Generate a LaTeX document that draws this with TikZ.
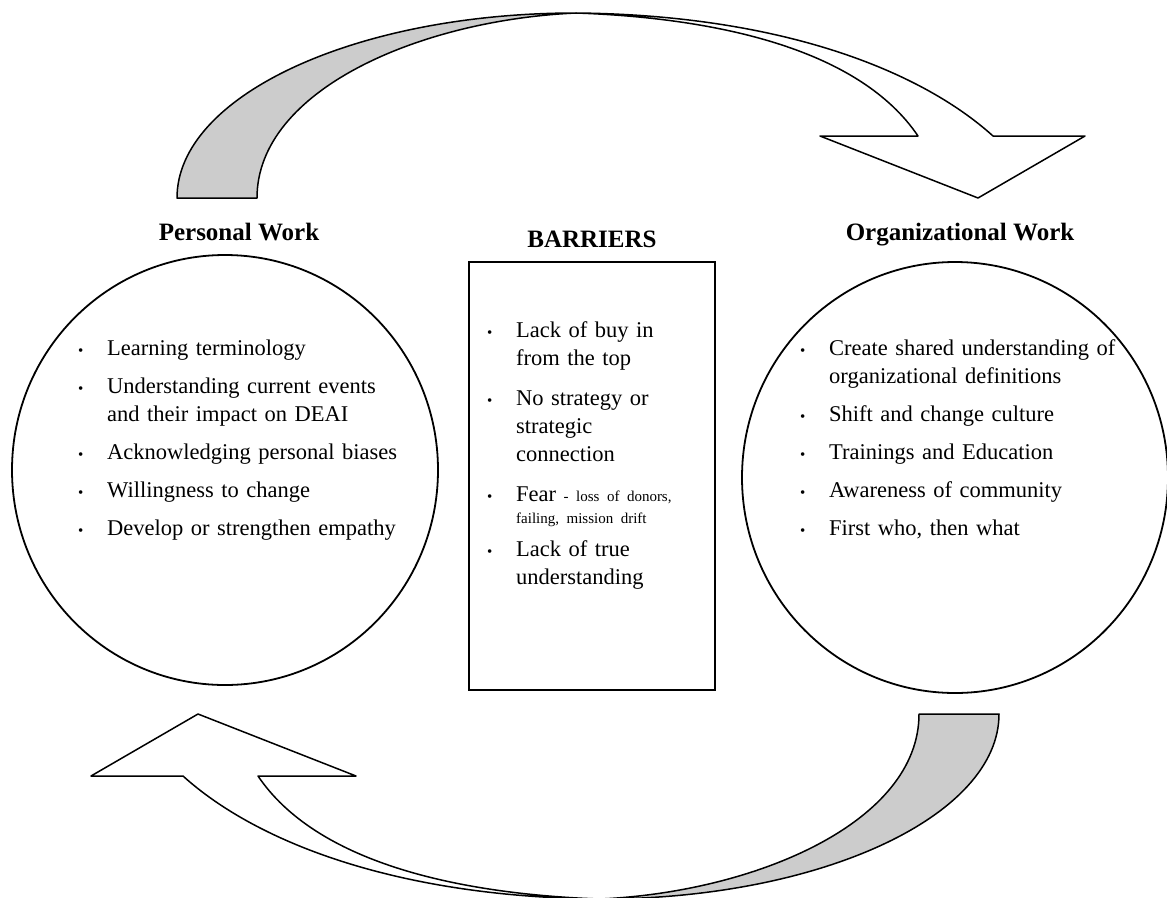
\documentclass[tikz,border=0pt]{standalone}
\usepackage{fontspec}
\setmainfont{Liberation Serif}
\usetikzlibrary{shapes.geometric,positioning}

\tikzset{
  ring/.style={draw, ellipse, line width=1.8pt, minimum width=426pt, minimum height=430pt, inner sep=0pt},
  heading/.style={font=\bfseries\fontsize{25}{30}\selectfont, inner sep=0pt, anchor=base},
  bullets/.style={font=\fontsize{22.5}{28}\selectfont, align=left, text width=#1, inner sep=0pt, anchor=base west},
  band/.style={draw, line width=1.5pt, line join=round},
}
\newcommand\dotitem{\makebox[29pt][l]{\fontsize{15}{15}\selectfont\textbullet}}
\newcommand\dotgap{\hspace*{29pt}}

\begin{document}
\begin{tikzpicture}[x=1pt, y=-1pt]
  \useasboundingbox (0,0) rectangle (1167,897);

  % the two turning arrows (second one is the first turned round)
  \foreach \turn in {0,180}{
    \begin{scope}[rotate around={\turn:(588,456)}]
      \coordinate (peak) at (576,13);
      \draw[band, fill=white] (peak) .. controls (780,15) and (920,70) .. (993,136)
        -- (1085,136) -- (978,198) -- (820,136) -- (918,136)
        .. controls (860,50) and (720,18) .. (peak) -- cycle;
      \draw[band, fill=gray!40] (177,198) arc[start angle=180, end angle=270, x radius=399, y radius=185]
        .. controls (420,20) and (257,90) .. (257,198) -- cycle;
    \end{scope}
  }

  % headings
  \node[heading] (ptitle) at (239,240) {Personal Work};
  \node[heading] (btitle) at (592,247) {BARRIERS};
  \node[heading] (otitle) at (960,240) {Organizational Work};

  % shapes
  \node[ring] (pcirc) at (225,470) {};
  \node[draw, line width=2pt, minimum width=246pt, minimum height=428pt, inner sep=0pt] (barbox) at (592,476) {};
  \node[ring, minimum height=431pt] (ocirc) at (955,477.5) {};

  % lists
  \node[bullets=330pt] (plist) at (78,355) {
    \dotitem Learning terminology\\[10pt]
    \dotitem Understanding current events\\
    \dotgap and their impact on DEAI\\[10pt]
    \dotitem Acknowledging personal biases\\[10pt]
    \dotitem Willingness to change\\[10pt]
    \dotitem Develop or strengthen empathy
  };
  \node[bullets=215pt] (blist) at (487,337) {
    \dotitem Lack of buy in\\
    \dotgap from the top\\[12pt]
    \dotitem No strategy or\\
    \dotgap strategic\\
    \dotgap connection\\[12pt]
    \dotitem Fear {\fontsize{15}{20}\selectfont - loss of donors,}\\[-6pt]
    \dotgap{\fontsize{15}{20}\selectfont failing, mission drift}\\[5pt]
    \dotitem Lack of true\\
    \dotgap understanding
  };
  \node[bullets=330pt] (olist) at (800,355) {
    \dotitem Create shared understanding of\\
    \dotgap organizational definitions\\[10pt]
    \dotitem Shift and change culture\\[10pt]
    \dotitem Trainings and Education\\[10pt]
    \dotitem Awareness of community\\[10pt]
    \dotitem First who, then what
  };
\end{tikzpicture}
\end{document}
